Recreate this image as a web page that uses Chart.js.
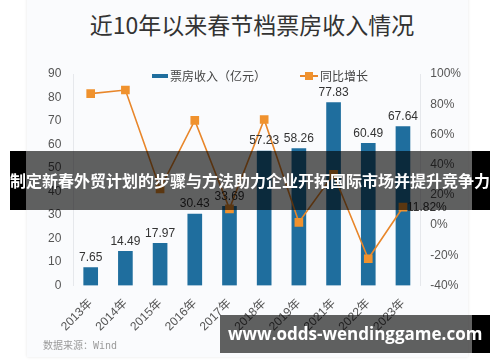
<!DOCTYPE html>
<html>
<head>
<meta charset="utf-8">
<script src="https://cdn.jsdelivr.net/npm/chart.js@4.4.1/dist/chart.umd.min.js"></script>
<style>
  html, body { margin: 0; padding: 0; background: #fff; }
  body { width: 500px; height: 362px; position: relative; overflow: hidden; font-family: "Liberation Sans", "Noto Sans CJK SC", sans-serif; }
  .card { position: absolute; left: 27px; top: -10px; width: 441px; height: 367px; background: #fafbfd; box-shadow: 0 0 3px rgba(0,0,0,0.10); }
  .title { position: absolute; left: 0; top: 9px; width: 504px; text-align: center; font-family: "Noto Sans CJK SC", sans-serif; font-size: 23px; color: #333; line-height: 30px; }
  #wrap { position: absolute; left: 0; top: 0; width: 500px; height: 362px; }
  .legend { position: absolute; top: 66px; left: 152px; font-family: "Noto Sans CJK SC", sans-serif; font-size: 12px; color: #444; line-height: 16px; white-space: nowrap; }
  .legend span { display: inline-block; vertical-align: middle; }
  .lg-bar { width: 16px; height: 4px; background: #1f6e9e; margin-right: 2px; }
  .lg-line { width: 18px; height: 8px; position: relative; margin-left: 34px; margin-right: 2px; }
  .lg-line:before { content: ""; position: absolute; left: 0; top: 3px; width: 18px; height: 2px; background: #e8862a; }
  .lg-line:after { content: ""; position: absolute; left: 5px; top: 0; width: 8px; height: 8px; background: #f0922e; }
  .source { position: absolute; left: 43px; top: 337px; font-family: "DejaVu Sans Mono", "Noto Sans CJK SC", monospace; font-size: 10px; color: #9a9a9a; }
  .band { position: absolute; }
  .band .inner { position: absolute; top: 0; bottom: 0; background: rgba(0,0,0,0.62); }
  .band .side { position: absolute; top: 0; bottom: 0; background: #000; }
  .band .txt { position: absolute; left: 0; right: 0; top: 0; bottom: 0; color: #fff; font-weight: bold; white-space: nowrap; }
  #b1 { left: 10px; top: 151px; width: 480px; height: 59px; }
  #b1 .txt { font-family: "Noto Sans CJK SC", sans-serif; font-size: 16px; line-height: 59px; text-align: center; }
  #b2 { left: 220px; top: 315px; width: 270px; height: 38px; }
  #b2 .txt { font-family: "Open Sans", sans-serif; font-size: 17px; line-height: 38px; left: 8px; }
</style>
</head>
<body>
<div class="card"></div>
<div class="title">近10年以来春节档票房收入情况</div>
<div id="wrap"><canvas id="myChart" width="500" height="362"></canvas></div>
<div class="legend">
  <span class="lg-bar"></span><span>票房收入（亿元）</span><span class="lg-line"></span><span>同比增长</span>
</div>
<div class="source">数据来源：Wind</div>
<div class="band" id="b1">
  <div class="side" style="left:0;width:16px"></div>
  <div class="inner" style="left:16px;width:446px"></div>
  <div class="side" style="left:462px;width:18px"></div>
  <div class="txt">制定新春外贸计划的步骤与方法助力企业开拓国际市场并提升竞争力</div>
</div>
<div class="band" id="b2">
  <div class="inner" style="left:0;width:252px"></div>
  <div class="side" style="left:252px;width:18px"></div>
  <div class="txt">www.odds-wendinggame.com</div>
</div>
<script>
const years = ['2013年', '2014年', '2015年', '2016年', '2017年', '2018年', '2019年', '2021年', '2022年', '2023年'];
const boxOffice = [7.65, 14.49, 17.97, 30.43, 33.69, 57.23, 58.26, 77.83, 60.49, 67.64];
const growth = [87, 89.4, 24, 69.3, 10.7, 69.9, 1.8, 33.6, -22.3, 11.82];
const leftTicks = [0, 90, 10];
const rightTicks = [-40, 100, 20];

const barColor = '#1f6e9e';
const lineColor = '#e8862a';

const valueLabels = {
    id: 'valueLabels',
    afterDatasetsDraw(chart) {
        const ctx = chart.ctx;
        ctx.save();
        ctx.font = '12px "Liberation Sans", sans-serif';
        ctx.fillStyle = '#333';
        const barMeta = chart.getDatasetMeta(1);
        barMeta.data.forEach((bar, i) => {
            ctx.textAlign = 'center';
            ctx.textBaseline = 'bottom';
            ctx.fillText(boxOffice[i].toFixed(2), bar.x, bar.y - 4);
        });
        // only the last growth point is labelled
        const lineMeta = chart.getDatasetMeta(0);
        const last = lineMeta.data[growth.length - 1];
        ctx.textAlign = 'left';
        ctx.textBaseline = 'middle';
        ctx.fillText(growth[growth.length - 1].toFixed(2) + '%', last.x + 4, last.y + 1);
        ctx.restore();
    }
};

new Chart(document.getElementById('myChart'), {
    data: {
        labels: years,
        datasets: [
            {
                type: 'line',
                label: '同比增长',
                data: growth,
                yAxisID: 'y1',
                borderColor: lineColor,
                borderWidth: 1.6,
                pointStyle: 'rect',
                pointRadius: 5,
                pointBackgroundColor: '#f0922e',
                pointBorderColor: '#f0922e',
                tension: 0,
                order: 0,
            },
            {
                type: 'bar',
                label: '票房收入（亿元）',
                data: boxOffice,
                yAxisID: 'y',
                backgroundColor: barColor,
                barThickness: 14,
                order: 1,
            }
        ]
    },
    options: {
        responsive: false,
        animation: false,
        layout: { padding: { left: 36, right: 29, top: 74, bottom: 25 } },
        scales: {
            x: {
                offset: true,
                grid: { display: false },
                border: { display: false },
                ticks: { color: '#555', font: { size: 12, family: '"Liberation Sans", "Noto Sans CJK SC", sans-serif' }, minRotation: 45, maxRotation: 45, padding: 3 },
            },
            y: {
                position: 'left',
                min: leftTicks[0],
                max: leftTicks[1],
                grid: { display: false, drawTicks: false },
                border: { display: true, color: '#e6e8ec' },
                ticks: { stepSize: leftTicks[2], color: '#555', padding: 12, font: { size: 12, family: '"Liberation Sans", sans-serif' } },
            },
            y1: {
                position: 'right',
                min: rightTicks[0],
                max: rightTicks[1],
                grid: { display: false, drawTicks: false },
                border: { display: true, color: '#e6e8ec' },
                ticks: { stepSize: rightTicks[2], color: '#555', padding: 10, font: { size: 12, family: '"Liberation Sans", sans-serif' }, callback: v => v + '%' },
            },
        },
        plugins: {
            legend: { display: false },
            tooltip: { enabled: false },
        }
    },
    plugins: [valueLabels]
});
</script>
</body>
</html>
